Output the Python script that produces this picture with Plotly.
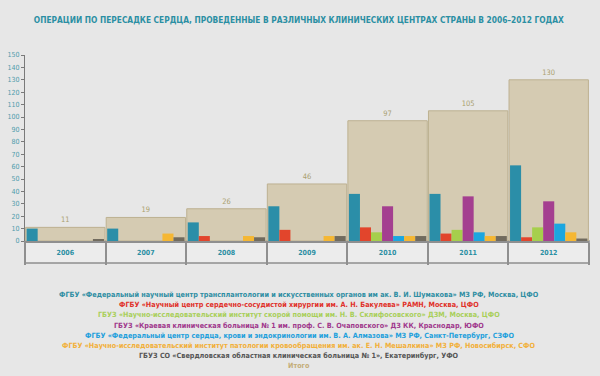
import plotly.graph_objects as go

years = ["2006", "2007", "2008", "2009", "2010", "2011", "2012"]

series_names = [
    "ФГБУ «Федеральный научный центр трансплантологии и искусственных органов им ак. В. И. Шумакова» МЗ РФ, Москва, ЦФО",
    "ФГБУ «Научный центр сердечно-сосудистой хирургии им. А. Н. Бакулева» РАМН, Москва, ЦФО",
    "ГБУЗ «Научно-исследовательский институт скорой помощи им. Н. В. Склифосовского» ДЗМ, Москва, ЦФО",
    "ГБУЗ «Краевая клиническая больница № 1 им. проф. С. В. Очаповского» ДЗ КК, Краснодар, ЮФО",
    "ФГБУ «Федеральный центр сердца, крови и эндокринологии им. В. А. Алмазова» МЗ РФ, Санкт-Петербург, СЗФО",
    "ФГБУ «Научно-исследовательский институт патологии кровообращения им. ак. Е. Н. Мешалкина» МЗ РФ, Новосибирск, СФО",
    "ГБУЗ СО «Свердловская областная клиническая больница № 1», Екатеринбург, УФО",
]
total_name = "Итого"

shumakov = [10, 10, 15, 28, 38, 38, 61]
bakulev = [0, 0, 4, 9, 11, 6, 3]
sklif = [0, 0, 0, 0, 7, 9, 11]
ochapovsky = [0, 0, 0, 0, 28, 36, 32]
almazov = [0, 0, 0, 0, 4, 7, 14]
meshalkin = [0, 6, 4, 4, 4, 4, 7]
sverdlovsk = [1, 3, 3, 4, 4, 4, 2]
totals = [11, 19, 26, 46, 97, 105, 130]

series_values = [shumakov, bakulev, sklif, ochapovsky, almazov, meshalkin, sverdlovsk]
bar_colors = ["#2b8ea8", "#e2452c", "#a6cf4c", "#a43f90", "#1ba6e0", "#f5b733", "#716b5e"]
text_colors = ["#2f8ea3", "#e0312a", "#a9cf5a", "#a0388c", "#1ea0dc", "#f2b03a", "#555555"]
total_color = "#d5cbb2"
total_text_color = "#c4ad78"

FONT = "DejaVu Sans Condensed, Liberation Sans Narrow, DejaVu Sans, sans-serif"
BG = "#e7e7e7"

# plot area geometry (px)
PLOT_TOP, PLOT_BOTTOM = 55, 241
PLOT_H = PLOT_BOTTOM - PLOT_TOP

fig = go.Figure()
fig.add_trace(go.Bar(
    x=years, y=totals, name=total_name, xaxis="x", yaxis="y",
    width=0.985,
    marker=dict(color=total_color, line=dict(color="#bdb191", width=1)),
    text=totals, textposition="outside", cliponaxis=False,
    textfont=dict(size=7.5, color="#aa9f70", family=FONT),
    showlegend=False,
))
for name, vals, col in zip(series_names, series_values, bar_colors):
    fig.add_trace(go.Bar(
        x=years, y=vals, name=name, xaxis="x2", yaxis="y",
        marker=dict(color=col, line=dict(width=0)),
        showlegend=False,
    ))

legend_names = series_names + [total_name]
legend_colors = text_colors + [total_text_color]
for i, (n, c) in enumerate(zip(legend_names, legend_colors)):
    py = 294.7 + 10.1 * i
    fig.add_annotation(
        text=n, xref="paper", yref="paper",
        x=0.486, y=(PLOT_BOTTOM - py) / PLOT_H, xanchor="center", yanchor="middle",
        showarrow=False, font=dict(size=7.2, family=FONT, weight="bold", color=c),
    )

fig.add_shape(
    type="rect", xref="paper", yref="paper", x0=0, x1=1, y0=-22 / PLOT_H, y1=0,
    fillcolor="#ececec", line=dict(color="#8f8f8f", width=1.5), layer="below",
)

fig.update_layout(
    width=600, height=376,
    margin=dict(l=25, r=11, t=PLOT_TOP, b=376 - PLOT_BOTTOM),
    paper_bgcolor=BG, plot_bgcolor=BG,
    barmode="group", bargap=0.04, bargroupgap=0,
    title=dict(
        text="ОПЕРАЦИИ ПО ПЕРЕСАДКЕ СЕРДЦА, ПРОВЕДЕННЫЕ В РАЗЛИЧНЫХ КЛИНИЧЕСКИХ ЦЕНТРАХ СТРАНЫ В 2006–2012 ГОДАХ",
        x=0.498, xref="container", xanchor="center",
        y=1 - 20 / 376, yref="container", yanchor="middle",
        font=dict(size=8.3, color="#2b8fa3", family=FONT, weight="bold"),
    ),
    xaxis=dict(
        type="category", range=[-0.5, 6.5], showgrid=False, zeroline=False,
        showline=True, linecolor="#8f8f8f", linewidth=1.5,
        ticks="outside", tickson="boundaries", ticklen=22, tickwidth=1.5, tickcolor="#8f8f8f",
        tickfont=dict(size=7, color="#2b8fa3", family=FONT, weight="bold"),
        ticklabelstandoff=4, automargin=False,
    ),
    xaxis2=dict(
        type="category", range=[-0.5, 6.5], overlaying="x", visible=False,
    ),
    yaxis=dict(
        range=[0, 150], dtick=10, showgrid=False, zeroline=False,
        showline=True, linecolor="#7a7a7a", linewidth=1,
        ticks="outside", ticklen=3, tickcolor="#7a7a7a",
        tickfont=dict(size=7, color="#4e9cab", family=FONT),
        automargin=False,
    ),
    font=dict(family=FONT),
)

fig.write_html(
    "out.html",
    config={"displayModeBar": False},
    post_script="document.body.style.margin='0';document.body.style.background='" + BG + "';",
)
